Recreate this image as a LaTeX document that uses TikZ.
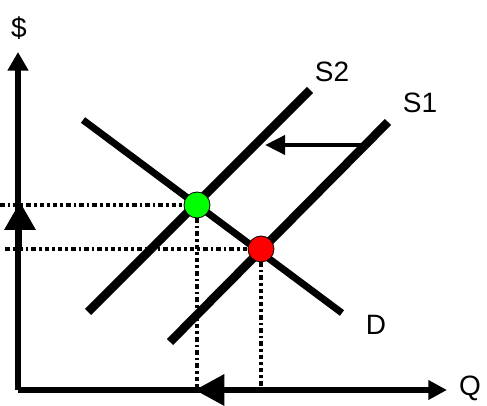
\documentclass[tikz,border=0pt]{standalone}
\usepackage{fontspec}
\setmainfont{Liberation Sans}
\usetikzlibrary{arrows.meta}
\tikzset{
  curve/.style={line width=6.5pt},
  demand/.style={line width=5.2pt},
  axis/.style={line width=3.8pt},
  guide/.style={line width=2.8pt, dash pattern=on 3.5pt off 2.2pt on 2pt off 2.2pt},
  movearrow/.style={line width=3.4pt},
  eqpoint/.style={circle, draw=black, line width=0.6pt, minimum size=19.5pt, inner sep=0pt},
  lbl/.style={font=\fontsize{21}{25}\selectfont, inner sep=0pt}
}
\begin{document}
\begin{tikzpicture}[x=0.75pt, y=-0.75pt]
  \useasboundingbox (0,0) rectangle (487,406);
  % axes
  \coordinate (o) at (18,390);
  \coordinate (ytop) at (18,52);
  \coordinate (xend) at (447,390);
  \node[lbl] (dollar) at (19,28) {\$};
  \node[lbl] (q) at (470,388) {Q};
  % curves
  \coordinate (d1) at (83,120);
  \coordinate (d2) at (342,313);
  \coordinate (s2a) at (88,312);
  \coordinate (s2b) at (310,90);
  \coordinate (s1a) at (170,342);
  \coordinate (s1b) at (388,122);
  \node[lbl] (s2) at (332,72) {S2};
  \node[lbl] (s1) at (420,103) {S1};
  \node[lbl] (d) at (376,325) {D};
  % guides
  \coordinate (g) at (197,205);
  \coordinate (r) at (261,249);
  \coordinate (pg) at (0,205);
  \coordinate (pr) at (5,249);
  \coordinate (qg) at (197,390);
  \coordinate (qr) at (261,390);
  \draw[guide] (pg) -- (g);
  \draw[guide] (pr) -- (r);
  \draw[guide] (g) -- (qg);
  \draw[guide] (r) -- (qr);
  \begin{scope}[line cap=butt]
    \draw[demand] (d1) -- (d2);
    \draw[curve] (s2a) -- (s2b);
    \draw[curve] (s1a) -- (s1b);
  \end{scope}
  \draw[axis, -{Triangle[length=14pt, width=15pt]}] (o) -- (ytop);
  \draw[axis, -{Triangle[length=14pt, width=14pt]}] (o) -- (xend);
  % shifts
  \coordinate (sfrom) at (362,145);
  \coordinate (sto) at (265,145);
  \coordinate (qto) at (195,390);
  \coordinate (pfrom) at (20,249);
  \coordinate (pto) at (20,202);
  \draw[movearrow, -{Triangle[length=15pt, width=14pt]}] (sfrom) -- (sto);
  \draw[movearrow, -{Triangle[length=22pt, width=23pt]}] (qr) -- (qto);
  \draw[movearrow, -{Triangle[length=21pt, width=23pt]}] (pfrom) -- (pto);
  % equilibria
  \node[eqpoint, fill=green] (eg) at (g) {};
  \node[eqpoint, fill=red] (er) at (r) {};
\end{tikzpicture}
\end{document}
